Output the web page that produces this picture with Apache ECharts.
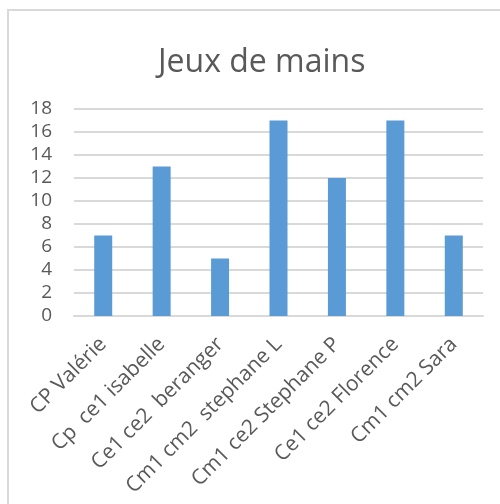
<!DOCTYPE html>
<html>
<head>
<meta charset="utf-8">
<script src="https://cdn.jsdelivr.net/npm/echarts@6/dist/echarts.min.js"></script>
<style>
  html, body { margin: 0; padding: 0; background: #fff; }
  .frame {
    position: absolute; left: 7px; top: 9px; width: 520px; height: 520px;
    border: 2px solid #d9d9d9; box-sizing: border-box;
  }
  .chart1 { position: absolute; left: 0; top: 0; width: 500px; height: 504px; }
</style>
</head>
<body>
<div class="frame"></div>
<div class="chart1"></div>
<script>
// données
const categories = [
  "CP Valérie",
  "Cp  ce1 isabelle",
  "Ce1 ce2  beranger",
  "Cm1 cm2  stephane L",
  "Cm1 ce2 Stephane P",
  "Ce1 ce2 Florence",
  "Cm1 cm2 Sara"
];
const values = [7, 13, 5, 17, 12, 17, 7];
const titleText = "Jeux de mains";

const font = "'Open Sans', sans-serif";

let option = {
  animation: false,
  title: {
    text: titleText,
    left: 153,
    top: 42,
    textStyle: { fontFamily: font, fontSize: 32, fontWeight: "normal", color: "#595959" },
  },
  grid: { left: 74, right: 17, top: 109, bottom: 188 },
  xAxis: {
    type: "category",
    data: categories,
    axisLine: { lineStyle: { color: "#d9d9d9", width: 2 } },
    axisTick: { show: false },
    axisLabel: {
      rotate: 45,
      interval: 0,
      margin: 25,
      fontFamily: font,
      fontSize: 21,
      color: "#595959",
    },
  },
  yAxis: {
    type: "value",
    min: 0,
    max: 18,
    interval: 2,
    axisLine: { show: false },
    axisTick: { show: false },
    splitLine: { lineStyle: { color: "#d9d9d9", width: 2 } },
    axisLabel: { margin: 22, fontFamily: font, fontSize: 19, color: "#595959" },
  },
  series: [
    {
      type: "bar",
      data: values,
      barWidth: 18,
      itemStyle: { color: "#5b9bd5" },
    },
  ],
};

let chart1 = echarts.init(document.querySelector(".chart1"));
chart1.setOption(option);
</script>
</body>
</html>
